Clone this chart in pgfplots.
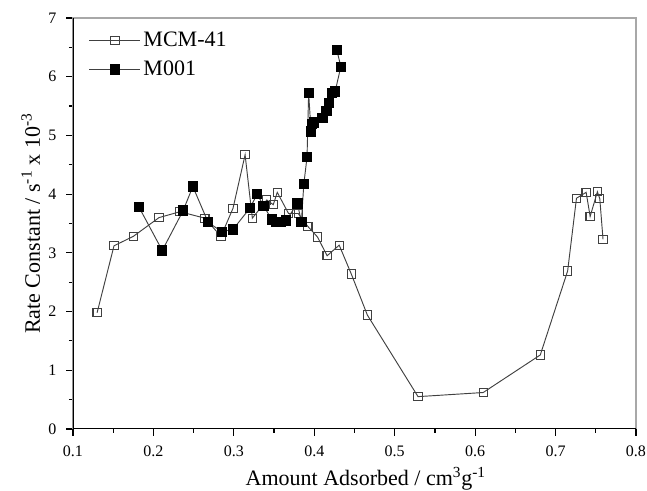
\documentclass[border=0pt]{standalone}
\usepackage{pgfplots}
\pgfplotsset{compat=1.18}
\usepackage{fontspec}
\setmainfont{Liberation Serif}
\definecolor{lnc}{HTML}{404040}
\definecolor{boxc}{HTML}{A8A8A8}
\begin{document}
\begin{tikzpicture}
\begin{axis}[
  name=main,
  scale only axis,
  width=422pt, height=308pt,
  xmin=0.1, xmax=0.8, ymin=0, ymax=7,
  xtick={0.1,0.2,...,0.8},
  ytick={0,1,...,7},
  minor tick num=1,
  xticklabel style={/pgf/number format/fixed,/pgf/number format/precision=1, inner xsep=0pt, yshift=-4.5pt},
  yticklabel style={xshift=-4pt},
  /pgf/number format/assume math mode=true,
  tick label style={font=\fontsize{12}{14}\selectfont},
  tick align=outside,
  xtick pos=bottom, ytick pos=left,
  major tick length=5pt, minor tick length=3pt,
  tick style={black, line width=0.9pt},
  axis line style={boxc, line width=0.8pt},
  xlabel={Amount Adsorbed / cm\textsuperscript{3}g\textsuperscript{-1}},
  ylabel={Rate Constant / s\textsuperscript{-1} x 10\textsuperscript{-3}},
  label style={font=\fontsize{16.5}{19}\selectfont, inner sep=0pt},
  xlabel style={at={(axis description cs:0.52,-0.138)}, anchor=base},
  ylabel style={at={(axis description cs:-0.0586,0.5)}, anchor=base},
  legend style={draw=none, fill=none, at={(rel axis cs:0.028,0.973)}, anchor=north west,
    font=\fontsize{16.5}{19}\selectfont, row sep=5.5pt, inner sep=0pt},
  legend cell align=left,
  legend image code/.code={\draw[#1,mark repeat=2,mark phase=2] plot coordinates {(0cm,0cm) (0.67cm,0cm) (1.34cm,0cm)};},
]
\addplot[lnc, line width=0.7pt, mark=square, mark size=3.1pt, mark options={lnc, fill=white, line width=0.8pt}] coordinates {
(0.130,1.98) (0.151,3.12) (0.175,3.28) (0.207,3.60) (0.233,3.70) (0.264,3.59)
(0.284,3.28) (0.299,3.76) (0.314,4.67) (0.323,3.59) (0.341,3.90) (0.349,3.82)
(0.354,4.03) (0.368,3.67) (0.380,3.67) (0.392,3.45) (0.404,3.27) (0.416,2.95)
(0.431,3.13) (0.446,2.64) (0.466,1.94) (0.529,0.55) (0.610,0.62) (0.681,1.26)
(0.715,2.69) (0.726,3.93) (0.738,4.03) (0.743,3.62) (0.752,4.04) (0.755,3.92)
(0.759,3.23)
};
\addlegendentry{MCM-41}
\addplot[lnc, line width=0.7pt, mark=square*, mark size=3.5pt, mark options={black, fill=black}] coordinates {
(0.182,3.78) (0.211,3.04) (0.237,3.72) (0.249,4.13) (0.268,3.52) (0.285,3.36)
(0.299,3.40) (0.320,3.76) (0.329,4.00) (0.337,3.80) (0.347,3.57) (0.353,3.53)
(0.359,3.53) (0.365,3.55) (0.379,3.84) (0.384,3.53) (0.387,4.17) (0.391,4.63)
(0.393,5.72) (0.396,5.07) (0.397,5.20) (0.400,5.22) (0.410,5.30) (0.415,5.42)
(0.418,5.55) (0.422,5.72) (0.426,5.75) (0.433,6.17) (0.428,6.46)
};
\addlegendentry{M001}
\draw[black, line width=1.3pt] (rel axis cs:0,1) -- (rel axis cs:0,0) -- (rel axis cs:1,0);
\end{axis}
\path (main.south west) ++(-54.7pt,-45pt) rectangle ([shift={(8.25pt,13.5pt)}]main.north east);
\end{tikzpicture}
\end{document}
